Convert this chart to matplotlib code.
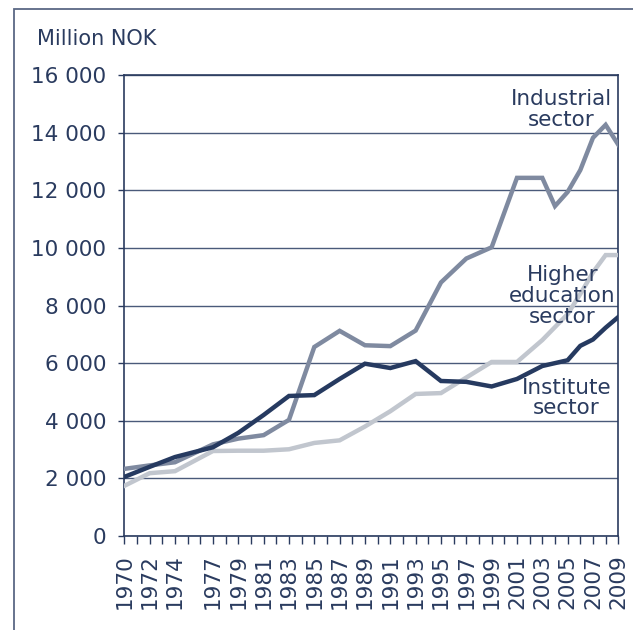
import matplotlib
matplotlib.use("Agg")
import matplotlib.pyplot as plt
from matplotlib.patches import Rectangle
from matplotlib.ticker import FuncFormatter

years = [1970, 1972, 1974, 1977, 1979, 1981, 1983, 1985, 1987, 1989, 1991, 1993,
         1995, 1997, 1999, 2001, 2003, 2004, 2005, 2006, 2007, 2008, 2009]
industrial = [2330, 2450, 2560, 3180, 3380, 3500, 4030, 6560, 7120, 6620, 6590, 7130,
              8800, 9630, 10020, 12430, 12430, 11450, 11940, 12700, 13820, 14270, 13580]
institute = [2050, 2400, 2740, 3080, 3580, 4200, 4860, 4890, 5450, 5980, 5830, 6070,
             5380, 5350, 5190, 5450, 5900, 6000, 6100, 6600, 6820, 7230, 7600]
higher_ed = [1740, 2180, 2250, 2950, 2960, 2960, 3010, 3230, 3320, 3800, 4330, 4930,
             4960, 5500, 6040, 6040, 6800, 7250, 7700, 8400, 9150, 9750, 9750]
label_years = [1970, 1972, 1974, 1977, 1979, 1981, 1983, 1985, 1987, 1989, 1991, 1993,
               1995, 1997, 1999, 2001, 2003, 2005, 2007, 2009]
y_ticks = [0, 2000, 4000, 6000, 8000, 10000, 12000, 14000, 16000]

NAVY = "#2a3b5f"
GRID = "#4a5a7a"
C_IND = "#7f8aa0"
C_INST = "#263a60"
C_HE = "#c1c6ce"

fig = plt.figure(figsize=(6.33, 6.30), dpi=100)
fig.patch.set_facecolor("white")
ax = fig.add_axes([124.3 / 633, 1 - 536 / 630, (618.3 - 124.3) / 633, (536 - 75) / 630])

# outer frame
fig.patches.append(Rectangle((14 / 633, -0.1), 1.2, 1 - 9 / 630 + 0.1,
                             transform=fig.transFigure, fill=False,
                             edgecolor="#5a6885", linewidth=1.3))

ax.plot(years, industrial, color=C_IND, lw=3.2, solid_joinstyle="miter", zorder=3)
ax.plot(years, institute, color=C_INST, lw=3.2, solid_joinstyle="miter", zorder=4)
ax.plot(years, higher_ed, color=C_HE, lw=3.2, solid_joinstyle="miter", zorder=3.5)

ax.set_xlim(1970, 2009)
ax.set_ylim(0, 16000)
ax.set_yticks(y_ticks)
ax.yaxis.set_major_formatter(FuncFormatter(lambda v, p: f"{int(v):,}".replace(",", " ")))
ax.grid(axis="y", color=GRID, lw=1.0)
ax.set_axisbelow(True)

all_years = list(range(1970, 2010))
ax.set_xticks(all_years)
ax.set_xticklabels([str(y) if y in label_years else "" for y in all_years], rotation=90)

ax.tick_params(axis="x", direction="out", length=6, width=1, color=NAVY,
               labelsize=15.5, labelcolor=NAVY, pad=7)
ax.tick_params(axis="y", direction="out", length=4, width=1, color=NAVY,
               labelsize=15.5, labelcolor=NAVY, pad=9)

for s in ["left", "right", "bottom", "top"]:
    ax.spines[s].set_color(NAVY)
    ax.spines[s].set_linewidth(1.2)

fig.text(37 / 633, 1 - 39 / 630, "Million NOK", fontsize=15, color=NAVY,
         ha="left", va="center")

ax.text(2004.5, 14790, "Industrial\nsector", fontsize=15.5, color=NAVY,
        ha="center", va="center", linespacing=1.05, zorder=6)
ax.text(2004.6, 8330, "Higher\neducation\nsector", fontsize=15.5, color=NAVY,
        ha="center", va="center", linespacing=1.05, zorder=6)
ax.text(2004.9, 4790, "Institute\nsector", fontsize=15.5, color=NAVY,
        ha="center", va="center", linespacing=1.05, zorder=6)

fig.savefig("out.png", dpi=100, facecolor="white")
